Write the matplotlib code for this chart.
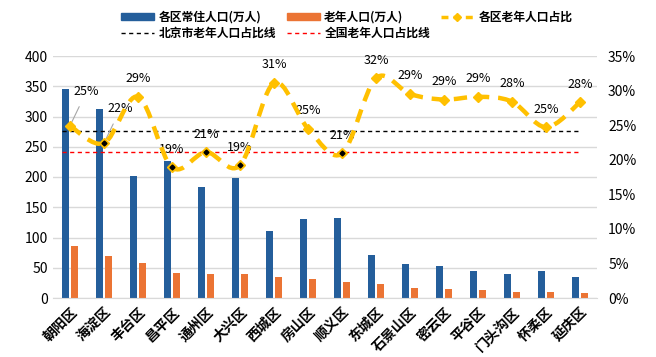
import matplotlib.pyplot as plt
import numpy as np
from matplotlib.path import Path
from matplotlib.patches import PathPatch, Patch
from matplotlib.lines import Line2D

# フォント
plt.rcParams['font.family'] = ['Noto Sans CJK SC', 'DejaVu Sans']

# データ
districts = ['朝阳区', '海淀区', '丰台区', '昌平区', '通州区', '大兴区', '西城区', '房山区',
             '顺义区', '东城区', '石景山区', '密云区', '平谷区', '门头沟区', '怀柔区', '延庆区']
pop_total = [345, 313, 202, 226, 184, 199, 111, 131, 132, 71, 57, 53, 45, 39, 44, 34]
pop_old = [86, 70, 58, 42, 39, 39, 34, 32, 27, 23, 17, 15, 13, 10, 10, 8]
old_ratio = [0.249, 0.224, 0.291, 0.189, 0.211, 0.192, 0.311, 0.245,
             0.209, 0.318, 0.295, 0.287, 0.291, 0.284, 0.247, 0.283]
ratio_labels = ['25%', '22%', '29%', '19%', '21%', '19%', '31%', '25%',
                '21%', '32%', '29%', '29%', '29%', '28%', '25%', '28%']
beijing_ratio = 0.242
china_ratio = 0.211
dark_points = [1, 3, 4, 5, 8]

x = np.arange(len(districts))

fig = plt.figure(figsize=(6.56, 3.57), dpi=100)
ax = fig.add_axes([53 / 656, 1 - 298 / 357, 544 / 656, 242 / 357])
ax2 = ax.twinx()

# 棒グラフ
w = 0.22
ax.bar(x - 0.135, pop_total, width=w, color='#245E9B', zorder=2)
ax.bar(x + 0.135, pop_old, width=w, color='#EB7434', zorder=2)

ax.set_xlim(-0.5, len(districts) - 0.5)
ax.set_ylim(0, 400)
ax.set_yticks(range(0, 401, 50))
ax.grid(axis='y', color='#D9D9D9', linewidth=1, zorder=0)
ax.set_axisbelow(True)
ax.set_xticks(x)
ax.set_xticklabels(districts, rotation=45, ha='right', rotation_mode='anchor',
                   fontsize=9, fontweight='bold')
ax.tick_params(axis='both', length=0, labelsize=10)
ax.tick_params(axis='x', pad=5)
for s in ['top', 'left', 'right']:
    ax.spines[s].set_visible(False)
    ax2.spines[s].set_visible(False)
ax.spines['bottom'].set_color('#D9D9D9')
ax2.spines['bottom'].set_visible(False)

# 第2軸
ax2.set_ylim(0, 0.35)
ax2.set_yticks(np.arange(0, 0.351, 0.05))
ax2.set_yticklabels([f'{int(round(v * 100))}%' for v in np.arange(0, 0.351, 0.05)])
ax2.tick_params(axis='y', length=0, labelsize=10, pad=8)

# 参考線
ax2.plot([-0.25, 15], [beijing_ratio] * 2, color='black', linestyle=(0, (3, 2.5)), linewidth=1, zorder=3)
ax2.plot([-0.25, 15], [china_ratio] * 2, color='red', linestyle=(0, (3, 2.5)), linewidth=1, zorder=3)

# 平滑曲線（ベジェ）
pts = np.column_stack([x, old_ratio])
verts = [pts[0]]
codes = [Path.MOVETO]
n = len(pts)
for i in range(n - 1):
    p0 = pts[max(i - 1, 0)]
    p1 = pts[i]
    p2 = pts[i + 1]
    p3 = pts[min(i + 2, n - 1)]
    verts += [p1 + (p2 - p0) / 6, p2 - (p3 - p1) / 6, p2]
    codes += [Path.CURVE4] * 3
curve = PathPatch(Path(verts, codes), fill=False, edgecolor='#FFC000', linewidth=3.2,
                  linestyle=(0, (3, 2)), zorder=4)
ax2.add_patch(curve)
ax2.plot(x, old_ratio, linestyle='none', marker='D', markersize=5, color='#FFC000', zorder=5)
ax2.plot(x[dark_points], np.array(old_ratio)[dark_points], linestyle='none', marker='D',
         markersize=2.5, color='black', zorder=6)

# ラベル
for i, (v, t) in enumerate(zip(old_ratio, ratio_labels)):
    if i in (0, 1):
        ax2.annotate(t, xy=(i, v), xytext=(12, 25), textcoords='offset points',
                     ha='center', va='center', fontsize=9,
                     arrowprops=dict(arrowstyle='-', color='#A6A6A6', linewidth=0.8,
                                     shrinkA=5, shrinkB=0))
    else:
        ax2.annotate(t, xy=(i, v), xytext=(0, 13), textcoords='offset points',
                     ha='center', va='center', fontsize=9)

# 凡例
handles = [
    Patch(color='#245E9B'),
    Line2D([], [], color='black', linestyle=(0, (3, 2.5)), linewidth=1),
    Patch(color='#EB7434'),
    Line2D([], [], color='red', linestyle=(0, (3, 2.5)), linewidth=1),
    Line2D([], [], color='#FFC000', linestyle=(0, (2, 1.5)), linewidth=2.5, marker='D', markersize=4),
]
labels = ['各区常住人口(万人)', '北京市老年人口占比线', '老年人口(万人)', '全国老年人口占比线', '各区老年人口占比']
fig.legend(handles, labels, loc='upper left', bbox_to_anchor=(110 / 656, 1.0), ncol=3,
           frameon=False, handlelength=2.8, handleheight=0.6, handletextpad=0.4,
           columnspacing=0.9, labelspacing=0.25, borderaxespad=0.5,
           prop={'weight': 'bold', 'size': 8.5})

fig.savefig('out.png', dpi=100)
plt.close()
